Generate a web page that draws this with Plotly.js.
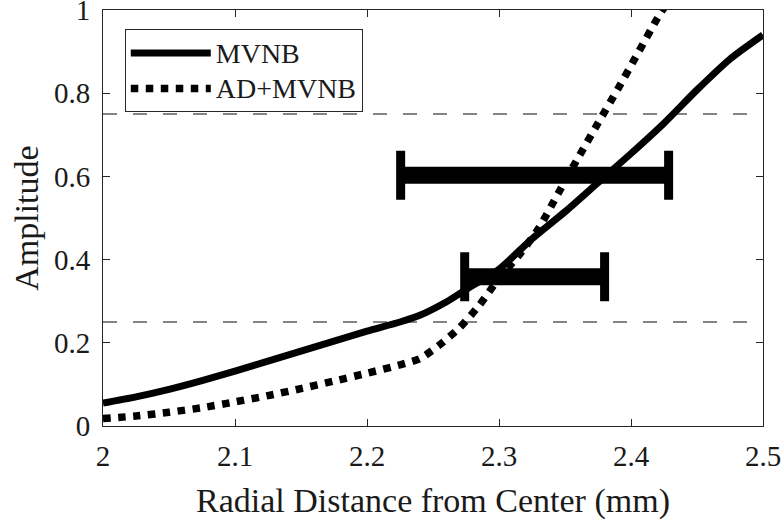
<!DOCTYPE html>
<html>
<head>
<meta charset="utf-8">
<script src="https://cdn.plot.ly/plotly-3.0.1.min.js"></script>
<style>html,body{margin:0;padding:0;background:#fff;}#chart{width:784px;height:520px;}</style>
</head>
<body>
<div id="chart"></div>
<script>
// ---- data ----
var mvnbX = [2.0, 2.025, 2.05, 2.075, 2.1, 2.125, 2.15, 2.175, 2.2, 2.225, 2.24, 2.26, 2.275, 2.3, 2.325, 2.35, 2.375, 2.4, 2.425, 2.45, 2.475, 2.5];
var mvnbY = [0.055, 0.07, 0.088, 0.109, 0.132, 0.156, 0.18, 0.204, 0.228, 0.25, 0.266, 0.298, 0.328, 0.377, 0.45, 0.515, 0.585, 0.655, 0.728, 0.808, 0.882, 0.94];

var admvnbX = [2.0, 2.025, 2.05, 2.075, 2.1, 2.125, 2.15, 2.175, 2.2, 2.225, 2.24, 2.255, 2.27, 2.285, 2.3, 2.315, 2.33, 2.345, 2.36, 2.375, 2.39, 2.405, 2.42, 2.43];
var admvnbY = [0.018, 0.024, 0.033, 0.044, 0.058, 0.073, 0.09, 0.108, 0.127, 0.147, 0.162, 0.195, 0.236, 0.29, 0.355, 0.41, 0.475, 0.56, 0.645, 0.728, 0.81, 0.895, 0.98, 1.03];

var rangeCenter = [2.327, 2.327];
var rangeHalfWidth = [0.1015, 0.053];
var rangeLevel = [0.603, 0.359];

var thresholdLevels = [0.25, 0.75];

var xTickVals = [2, 2.1, 2.2, 2.3, 2.4, 2.5];
var yTickVals = [0, 0.2, 0.4, 0.6, 0.8, 1];

var seriesNames = ['MVNB', 'AD+MVNB'];
var xTitle = 'Radial Distance from Center (mm)';
var yTitle = 'Amplitude';

// ---- chart ----
var FONT = "Liberation Serif, Times New Roman, serif";
var INK = '#1a1a1a';
function legendLabel(s) { return '<span style="font-size:28px">' + s + '</span>'; }

var traces = [
  {x: mvnbX, y: mvnbY, name: legendLabel(seriesNames[0]), type: 'scatter', mode: 'lines',
   line: {color: '#000', width: 7, shape: 'spline', smoothing: 0.7}},
  {x: admvnbX, y: admvnbY, name: legendLabel(seriesNames[1]), type: 'scatter', mode: 'lines',
   line: {color: '#000', width: 7.5, dash: 'dot', shape: 'spline', smoothing: 0.7}},
  // range bars (thick horizontal segment)
  {x: rangeCenter, y: rangeLevel, type: 'scatter', mode: 'markers', showlegend: false,
   hoverinfo: 'skip', marker: {size: 1, opacity: 0},
   error_x: {type: 'data', array: rangeHalfWidth, symmetric: true, thickness: 17, width: 0, color: '#000'}},
  // range bar caps
  {x: rangeCenter, y: rangeLevel, type: 'scatter', mode: 'markers', showlegend: false,
   hoverinfo: 'skip', marker: {size: 1, opacity: 0},
   error_x: {type: 'data', array: rangeHalfWidth, symmetric: true, thickness: 9, width: 24.5, color: '#000'}}
];

var shapes = thresholdLevels.map(function (v) {
  return {type: 'line', xref: 'paper', yref: 'y', x0: 0, x1: 1, y0: v, y1: v,
          layer: 'below', line: {color: '#5c5c5c', width: 1.5, dash: '14px,16px'}};
});

var layout = {
  width: 784, height: 520,
  margin: {l: 103, r: 21, t: 10, b: 94},
  paper_bgcolor: '#fff', plot_bgcolor: '#fff',
  font: {family: FONT, color: INK},
  showlegend: true,
  legend: {
    x: 0.033, y: 0.954, xanchor: 'left', yanchor: 'top',
    bordercolor: '#262626', borderwidth: 1, bgcolor: '#fff',
    font: {family: FONT, size: 25, color: INK},
    itemwidth: 80, tracegroupgap: 0
  },
  xaxis: {
    range: [2, 2.5], tickvals: xTickVals,
    ticks: 'inside', ticklen: 7, tickcolor: '#262626', tickwidth: 1,
    showline: true, linecolor: '#262626', linewidth: 1, mirror: 'ticks',
    showgrid: false, zeroline: false, ticklabeloverflow: 'allow',
    tickfont: {family: FONT, size: 29, color: INK},
    ticklabelstandoff: 4,
    title: {text: xTitle, font: {family: FONT, size: 34, color: INK}, standoff: 19}
  },
  yaxis: {
    range: [0, 1], tickvals: yTickVals,
    ticks: 'inside', ticklen: 7, tickcolor: '#262626', tickwidth: 1,
    showline: true, linecolor: '#262626', linewidth: 1, mirror: 'ticks',
    showgrid: false, zeroline: false, ticklabeloverflow: 'allow',
    tickfont: {family: FONT, size: 29, color: INK},
    ticklabelstandoff: 6
  },
  annotations: [{
    text: yTitle, xref: 'paper', yref: 'paper', x: -0.117, y: 0.5,
    xanchor: 'center', yanchor: 'middle', textangle: -90, showarrow: false,
    font: {family: FONT, size: 34, color: INK}
  }],
  shapes: shapes
};

Plotly.newPlot('chart', traces, layout, {displayModeBar: false, staticPlot: true});
</script>
</body>
</html>
